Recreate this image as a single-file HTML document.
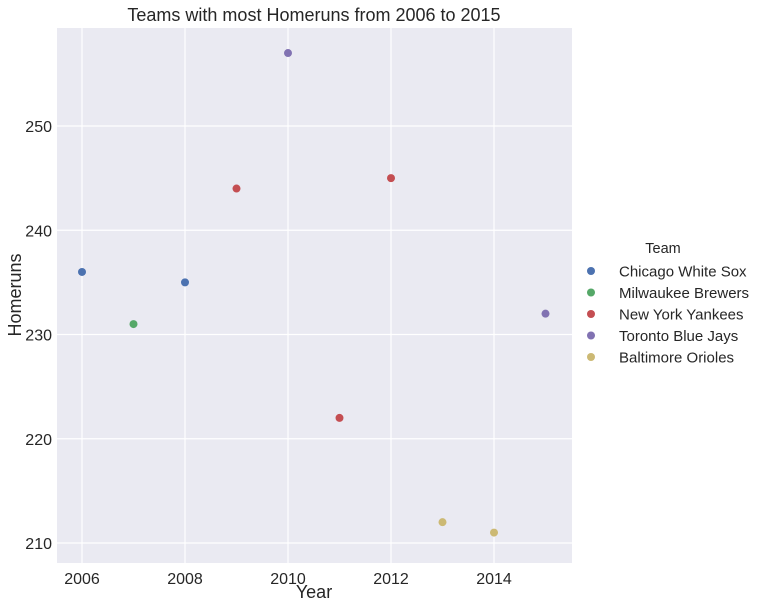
<!DOCTYPE html>
<html><head><meta charset="utf-8"><style>
body{margin:0;background:#fff;}
svg text{font-family:"Liberation Sans",Arial,sans-serif;fill:#262626;}
</style></head><body>
<svg id="chart" width="762" height="607">
<rect x="57" y="28" width="515" height="535" fill="#EAEAF2"/>
<g id="grid"></g>
<g id="ticks"></g>
<g id="points"></g>
<text x="314" y="21" text-anchor="middle" font-size="18">Teams with most Homeruns from 2006 to 2015</text>
<text x="314" y="598" text-anchor="middle" font-size="18">Year</text>
<text x="21" y="295" text-anchor="middle" font-size="18" transform="rotate(-90 21 295)">Homeruns</text>
<g id="legend">
<text x="663" y="253" text-anchor="middle" font-size="14.5">Team</text>
</g>
</svg>
<script>
const years=[2006,2007,2008,2009,2010,2011,2012,2013,2014,2015];
const homeruns=[236,231,235,244,257,222,245,212,211,232];
const teams=["Chicago White Sox","Milwaukee Brewers","Chicago White Sox","New York Yankees","Toronto Blue Jays","New York Yankees","New York Yankees","Baltimore Orioles","Baltimore Orioles","Toronto Blue Jays"];
const teamOrder=["Chicago White Sox","Milwaukee Brewers","New York Yankees","Toronto Blue Jays","Baltimore Orioles"];
const xTicks=[2006,2008,2010,2012,2014];
const yTicks=[210,220,230,240,250];
const colors=["#4C72B0","#55A868","#C44E52","#8172B2","#CCB974"];
const NS="http://www.w3.org/2000/svg";
const xs=v=>82+(v-2006)*51.5;
const ys=v=>543-(v-210)*10.425;
function mk(tag,attrs,parent){const e=document.createElementNS(NS,tag);for(const k in attrs)e.setAttribute(k,attrs[k]);document.getElementById(parent).appendChild(e);return e;}
xTicks.forEach(t=>{
 const l=mk('line',{x1:xs(t),x2:xs(t),y1:28,y2:563,stroke:'#fff','stroke-width':1.2},'grid');
 
 
 const tx=mk('text',{x:xs(t),y:584,'text-anchor':'middle','font-size':16},'ticks');tx.textContent=t;
 
 
});
yTicks.forEach(t=>{
 const l=mk('line',{x1:57,x2:572,y1:ys(t),y2:ys(t),stroke:'#fff','stroke-width':1.2},'grid');
 
 
 const tx=mk('text',{x:52,y:ys(t)+6,'text-anchor':'end','font-size':16},'ticks');tx.textContent=t;
 
 
});
years.forEach((y,i)=>{
 const c=mk('circle',{cx:xs(y),cy:ys(homeruns[i]),r:4,fill:colors[teamOrder.indexOf(teams[i])]},'points');
 
 
});
teamOrder.forEach((t,i)=>{
 const yy=271+i*21.5;
 const c=mk('circle',{cx:591,cy:yy,r:4,fill:colors[i]},'legend');
 
 
 const tx=mk('text',{x:619,y:yy+5.5,'font-size':15},'legend');tx.textContent=t;
 
 
});
</script>
</body></html>
